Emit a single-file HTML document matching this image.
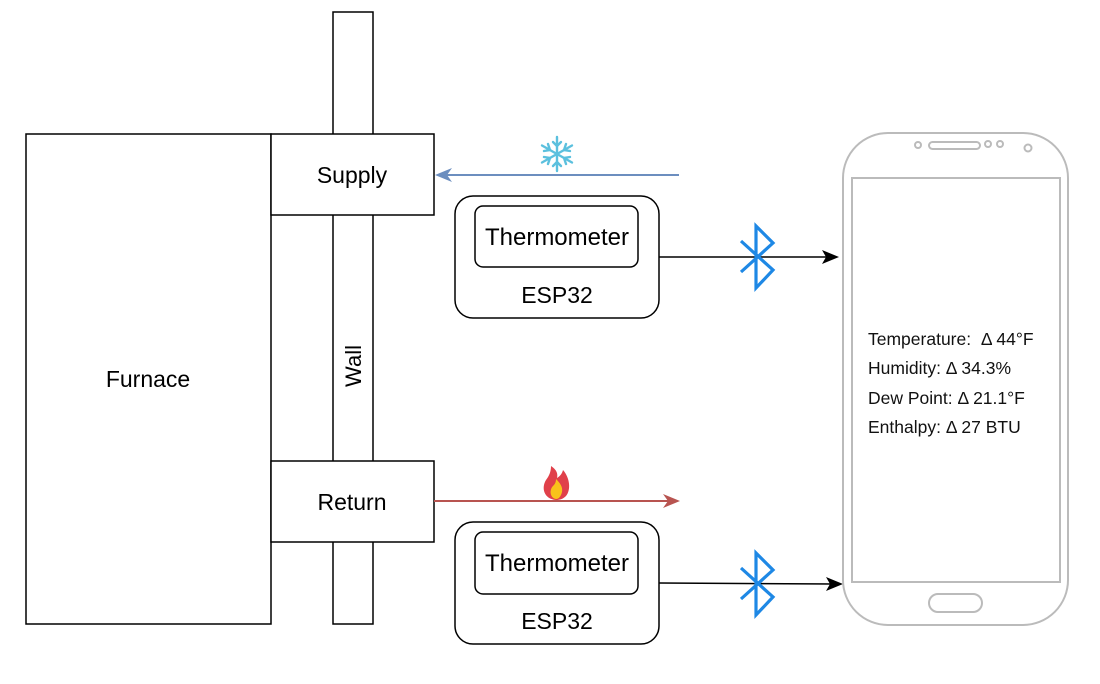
<!DOCTYPE html>
<html><head><meta charset="utf-8"><style>body{margin:0;background:#fff}svg{display:block}text{font-family:"Liberation Sans",Arial,sans-serif}</style></head><body>
<svg width="1100" height="684" viewBox="0 0 1100 684" xmlns="http://www.w3.org/2000/svg">
<rect x="333" y="12" width="40" height="612" fill="#fff" stroke="#000" stroke-width="1.5"/>
<rect x="26" y="134" width="245" height="490" fill="#fff" stroke="#000" stroke-width="1.5"/>
<text x="148" y="387" font-size="23" text-anchor="middle">Furnace</text>
<rect x="271" y="134" width="163" height="81" fill="#fff" stroke="#000" stroke-width="1.5"/>
<text x="352" y="183" font-size="23" text-anchor="middle">Supply</text>
<rect x="271" y="461" width="163" height="81" fill="#fff" stroke="#000" stroke-width="1.5"/>
<text x="352" y="510" font-size="23" text-anchor="middle">Return</text>
<text transform="translate(361,366) rotate(-90)" font-size="22" text-anchor="middle">Wall</text>
<line x1="679" y1="175" x2="444" y2="175" stroke="#6c8ebf" stroke-width="2"/>
<polygon points="435,175 452,168 447,175 452,182" fill="#6c8ebf"/>
<g stroke="#5bc0de" stroke-width="2.4" stroke-linecap="round" transform="translate(557,154)">
<line x1="0" y1="-17" x2="0" y2="17"/><line x1="-15" y1="-8.5" x2="15" y2="8.5"/><line x1="-15" y1="8.5" x2="15" y2="-8.5"/>
<polyline points="-4,-12 0,-8 4,-12" fill="none"/><polyline points="-4,12 0,8 4,12" fill="none"/>
<polyline points="-13,-3 -7,-4 -9,-10" fill="none"/><polyline points="13,3 7,4 9,10" fill="none"/>
<polyline points="13,-3 7,-4 9,-10" fill="none"/><polyline points="-13,3 -7,4 -9,10" fill="none"/>
</g>
<line x1="434" y1="501" x2="670" y2="501" stroke="#b85450" stroke-width="2"/>
<polygon points="680,501 663,494 668,501 663,508" fill="#b85450"/>
<path d="M556,500 C544,499 541,488 546,480 C549,476 551,472 551,466 C557,470 558,474 557,478 C560,476 562,474 563,470 C570,478 571,490 566,496 C563,499 560,500 556,500 Z" fill="#e0404a"/>
<path d="M556,499 C550,498 549,490 553,486 C555,484 556,482 556,479 C560,483 563,487 562,492 C561,496 559,499 556,499 Z" fill="#f9c21b"/>
<g stroke="#000" stroke-width="1.5" fill="#fff">
<rect x="455" y="196" width="204" height="122" rx="18"/>
<rect x="475" y="206" width="163" height="61" rx="8"/>
<rect x="455" y="522" width="204" height="122" rx="18"/>
<rect x="475" y="532" width="163" height="62" rx="8"/>
</g>
<text x="557" y="245" font-size="24" text-anchor="middle">Thermometer</text>
<text x="557" y="303" font-size="23" text-anchor="middle">ESP32</text>
<text x="557" y="571" font-size="24" text-anchor="middle">Thermometer</text>
<text x="557" y="629" font-size="23" text-anchor="middle">ESP32</text>
<line x1="659" y1="257" x2="830" y2="257" stroke="#000" stroke-width="1.5"/>
<polygon points="839,257 822,250 826,257 822,264" fill="#000"/>
<line x1="659" y1="583" x2="834" y2="584" stroke="#000" stroke-width="1.5"/>
<polygon points="843,584 826,577 830,584 826,591" fill="#000"/>
<g fill="none" stroke="#1e88e5" stroke-width="3.2">
<polyline points="741,241 773,270 756,288 756,226 773,243 741,272"/>
<polyline points="741,568 773,597 756,615 756,553 773,570 741,599"/>
</g>
<g fill="none" stroke="#bbb" stroke-width="2">
<rect x="843" y="133" width="225" height="492" rx="45"/>
<rect x="852" y="178" width="208" height="404"/>
<rect x="929" y="142" width="51" height="7" rx="3.5"/>
<circle cx="918" cy="145" r="3"/><circle cx="988" cy="144" r="3"/><circle cx="1000" cy="144" r="3"/><circle cx="1028" cy="148" r="3.5"/>
<rect x="929" y="594" width="53" height="18" rx="9"/>
</g>
<g font-size="17.5" fill="#111">
<text x="868" y="345" xml:space="preserve">Temperature:  Δ 44°F</text>
<text x="868" y="374">Humidity: Δ 34.3%</text>
<text x="868" y="404">Dew Point: Δ 21.1°F</text>
<text x="868" y="433">Enthalpy: Δ 27 BTU</text>
</g>
</svg>
</body></html>
